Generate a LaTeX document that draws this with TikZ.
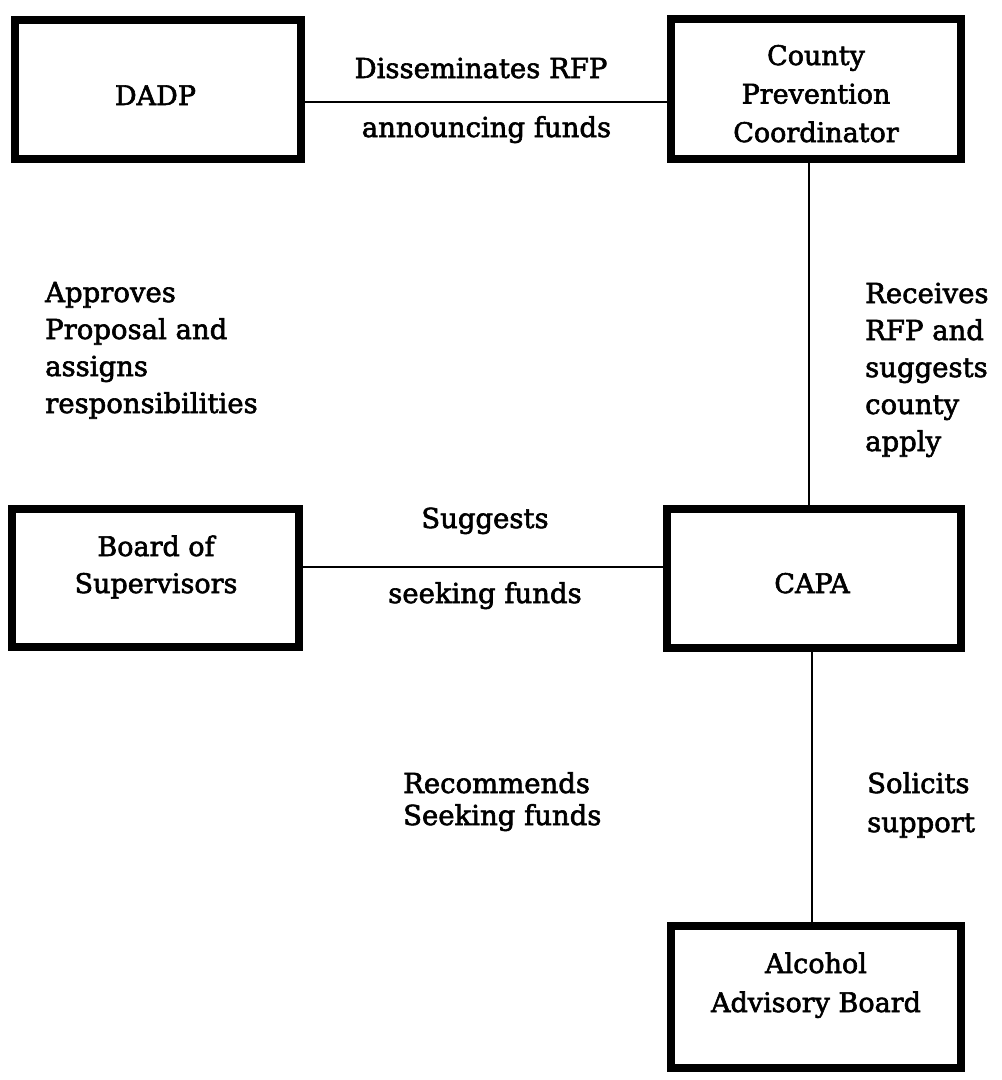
\documentclass[tikz,border=0pt]{standalone}
\usepackage{fontspec}
\setmainfont{DejaVu Serif}[AutoFakeBold=2.2]
\begin{document}
\begin{tikzpicture}[x=1pt,y=-1pt,
  box/.style={draw, line width=8pt, inner sep=0pt, rectangle},
  conn/.style={line width=2.2pt},
  lbl/.style={font=\fontsize{27.5}{37}\selectfont\bfseries, align=left, inner sep=0pt, anchor=base west},
  clbl/.style={font=\fontsize{27.5}{37}\selectfont\bfseries, align=center, inner sep=0pt, anchor=base},
  btxt/.style={font=\fontsize{27}{38.5}\selectfont\bfseries, align=center, inner sep=0pt, anchor=base}]
\useasboundingbox (0,0) rectangle (1002,1080);
\node[box, minimum width=286pt, minimum height=139pt] (dadp) at (158,89.5) {};
\node[box, minimum width=290pt, minimum height=140pt] (county) at (816,89) {};
\node[box, minimum width=287pt, minimum height=138pt] (board) at (155.5,578) {};
\node[box, minimum width=294pt, minimum height=139pt] (capa) at (814,578.5) {};
\node[box, minimum width=290pt, minimum height=142pt] (alc) at (816,997) {};
\node[btxt] (tdadp) at (155.5,105) {DADP};
\node[btxt] (tcounty) at (816,142) {County\\Prevention\\Coordinator};
\node[btxt, font=\fontsize{27}{37}\selectfont\bfseries] (tboard) at (156,593) {Board of\\Supervisors};
\node[btxt] (tcapa) at (812,593) {CAPA};
\node[btxt, font=\fontsize{27}{39}\selectfont\bfseries] (talc) at (816,1012) {Alcohol\\Advisory Board};
\draw[conn] ([yshift=-12.5pt]dadp.east) -- ([yshift=-12.5pt]dadp.east -| county.west);
\draw[conn] ([xshift=-7pt]county.south) -- ([xshift=-7pt]county.south |- capa.north);
\draw[conn] ([yshift=11pt]board.east) -- ([yshift=11pt]board.east -| capa.west);
\draw[conn] ([xshift=-2pt]capa.south) -- ([xshift=-2pt]capa.south |- alc.north);
\node[clbl] (l1) at (481,78) {Disseminates RFP};
\node[clbl] (l2) at (486.5,137) {announcing funds};
\node[lbl] (l3) at (45,413) {Approves\\Proposal and\\assigns\\responsibilities};
\node[lbl] (l4) at (865,451) {Receives\\RFP and\\suggests\\county\\apply};
\node[clbl] (l5) at (485,528) {Suggests};
\node[clbl] (l6) at (485,603) {seeking funds};
\node[lbl, font=\fontsize{27.5}{32}\selectfont\bfseries] (l7) at (403,825) {Recommends\\Seeking funds};
\node[lbl, font=\fontsize{27.5}{39}\selectfont\bfseries] (l8) at (867,832) {Solicits\\support};
\end{tikzpicture}
\end{document}
